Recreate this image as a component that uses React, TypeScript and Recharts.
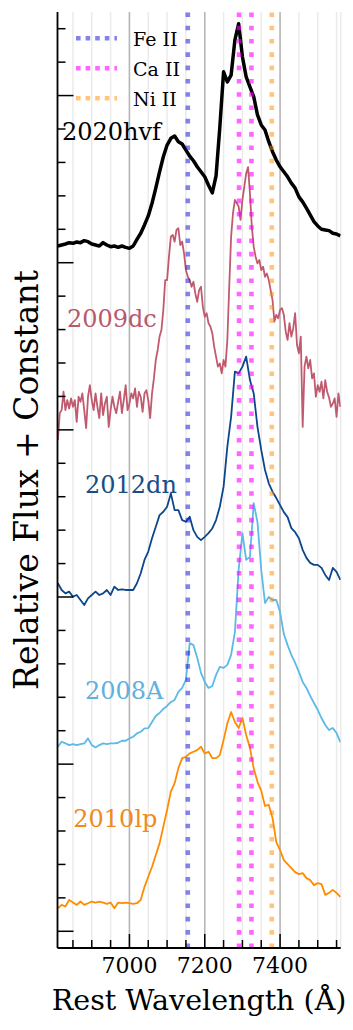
import React from 'react';
import { LineChart, Line, XAxis, YAxis, CartesianGrid, ReferenceLine, ReferenceDot } from 'recharts';

const SERIF = "'DejaVu Serif', serif";

// rest wavelength grid (Å)
const WAVE = [
  6810, 6820, 6830, 6840, 6850, 6860, 6870, 6880, 6890, 6900,
  6910, 6920, 6930, 6940, 6950, 6960, 6970, 6980, 6990, 7000,
  7010, 7020, 7030, 7040, 7050, 7060, 7070, 7080, 7090, 7100,
  7110, 7120, 7130, 7140, 7150, 7160, 7170, 7180, 7190, 7200,
  7210, 7220, 7230, 7240, 7250, 7260, 7270, 7280, 7290, 7300,
  7310, 7320, 7330, 7340, 7350, 7360, 7370, 7380, 7390, 7400,
  7410, 7420, 7430, 7440, 7450, 7460, 7470, 7480, 7490, 7500,
  7510, 7520, 7530, 7540, 7550, 7560,
];

// 2009dc is noisier, sampled finer
const WAVE_FINE = [
  6810, 6815, 6820, 6825, 6830, 6835, 6840, 6845, 6850, 6855,
  6860, 6865, 6870, 6875, 6880, 6885, 6890, 6895, 6900, 6905,
  6910, 6915, 6920, 6925, 6930, 6935, 6940, 6945, 6950, 6955,
  6960, 6965, 6970, 6975, 6980, 6985, 6990, 6995, 7000, 7005,
  7010, 7015, 7020, 7025, 7030, 7035, 7040, 7045, 7050, 7055,
  7060, 7065, 7070, 7075, 7080, 7085, 7090, 7095, 7100, 7105,
  7110, 7115, 7120, 7125, 7130, 7135, 7140, 7145, 7150, 7155,
  7160, 7165, 7170, 7175, 7180, 7185, 7190, 7195, 7200, 7205,
  7210, 7215, 7220, 7225, 7230, 7235, 7240, 7245, 7250, 7255,
  7260, 7265, 7270, 7275, 7280, 7285, 7290, 7295, 7300, 7305,
  7310, 7315, 7320, 7325, 7330, 7335, 7340, 7345, 7350, 7355,
  7360, 7365, 7370, 7375, 7380, 7385, 7390, 7395, 7400, 7405,
  7410, 7415, 7420, 7425, 7430, 7435, 7440, 7445, 7450, 7455,
  7460, 7465, 7470, 7475, 7480, 7485, 7490, 7495, 7500, 7505,
  7510, 7515, 7520, 7525, 7530, 7535, 7540, 7545, 7550, 7555,
  7560,
];

// relative flux + constant
const SN2020HVF = [
  20.50, 20.53, 20.56, 20.60, 20.58, 20.62, 20.60, 20.66, 20.63, 20.56,
  20.53, 20.50, 20.60, 20.53, 20.48, 20.50, 20.46, 20.50, 20.46, 20.43,
  20.50, 20.70, 20.88, 21.13, 21.40, 21.78, 22.23, 22.72, 23.17, 23.52,
  23.72, 23.79, 23.62, 23.55, 23.37, 23.19, 23.05, 22.87, 22.72, 22.57,
  22.32, 22.09, 22.60, 24.05, 25.71, 25.41, 25.61, 26.66, 27.15, 26.16,
  25.56, 25.26, 24.97, 24.42, 24.12, 23.97, 23.62, 23.32, 23.07, 22.87,
  22.72, 22.57, 22.38, 22.23, 21.97, 21.82, 21.63, 21.43, 21.23, 21.10,
  21.00, 20.98, 20.96, 20.88, 20.86, 20.80,
];

const SN2009DC = [
  14.70, 15.50, 15.59, 16.14, 15.59, 15.89, 15.64, 15.94, 15.69, 15.89,
  15.24, 15.99, 15.84, 16.09, 15.59, 15.05, 15.99, 16.34, 15.89, 15.59,
  16.09, 15.69, 15.35, 16.09, 15.44, 15.79, 15.99, 15.09, 15.59, 15.99,
  15.69, 15.50, 15.84, 16.14, 15.50, 15.89, 16.34, 15.59, 15.79, 16.09,
  15.94, 16.24, 15.69, 16.14, 15.99, 15.54, 16.09, 16.19, 15.89, 15.35,
  16.09, 16.54, 17.09, 17.39, 17.79, 17.99, 18.59, 19.48, 19.48, 20.18,
  20.78, 20.83, 20.63, 20.98, 21.03, 20.53, 20.63, 20.28, 19.78, 19.58,
  19.48, 19.28, 19.43, 19.08, 18.83, 19.18, 19.28, 18.68, 18.38, 18.49,
  18.19, 18.09, 17.89, 17.49, 17.19, 16.89, 16.99, 16.69, 17.09, 16.89,
  17.69, 19.28, 20.78, 21.48, 21.88, 21.78, 21.68, 21.28, 21.88, 22.27,
  22.67, 22.86, 22.08, 21.08, 20.48, 20.18, 19.98, 20.08, 19.78, 19.88,
  19.58, 19.68, 19.48, 19.18, 18.88, 18.24, 18.44, 18.34, 18.59, 18.64,
  18.44, 17.94, 17.69, 18.19, 17.79, 18.04, 18.49, 17.54, 17.29, 17.79,
  15.09, 16.89, 17.19, 16.84, 17.09, 16.54, 16.69, 15.99, 16.34, 16.14,
  16.44, 15.94, 16.49, 16.14, 15.97, 15.69, 15.79, 15.94, 15.39, 16.09,
  15.69,
];

const SN2012DN = [
  10.41, 10.21, 10.11, 10.16, 10.01, 10.06, 9.91, 9.76, 9.96, 10.06,
  10.16, 10.06, 10.11, 10.21, 10.06, 10.31, 10.21, 10.23, 10.21, 10.21,
  10.21, 10.41, 10.71, 11.11, 11.36, 11.76, 12.10, 12.45, 12.55, 12.70,
  13.10, 12.60, 12.60, 12.30, 12.25, 12.40, 12.00, 11.80, 11.70, 11.80,
  11.91, 12.05, 12.30, 12.70, 13.30, 14.50, 15.39, 16.74, 16.69, 16.89,
  17.19, 16.49, 16.09, 15.09, 14.40, 13.80, 13.40, 13.15, 12.96, 12.75,
  12.54, 12.39, 12.06, 11.94, 11.76, 11.41, 11.17, 11.02, 10.96, 10.96,
  10.87, 10.66, 10.51, 10.87, 10.75, 10.51,
];

const SN2008A = [
  5.52, 5.67, 5.62, 5.57, 5.60, 5.57, 5.60, 5.62, 5.77, 5.57,
  5.50, 5.57, 5.62, 5.60, 5.62, 5.62, 5.64, 5.70, 5.70, 5.77,
  5.82, 5.92, 5.97, 6.07, 6.08, 6.26, 6.44, 6.53, 6.65, 6.74,
  6.86, 6.92, 7.16, 7.28, 7.52, 8.62, 8.56, 8.18, 7.73, 7.46,
  7.28, 7.34, 7.67, 7.91, 7.88, 7.97, 8.27, 8.95, 10.81, 11.91,
  11.11, 11.20, 12.81, 12.24, 10.81, 9.82, 10.00, 9.91, 9.91, 9.55,
  8.89, 8.56, 8.27, 8.03, 7.76, 7.46, 7.28, 7.04, 6.83, 6.62,
  6.38, 6.17, 6.02, 6.08, 5.93, 5.66,
];

const SN2010LP = [
  0.69, 0.79, 0.74, 0.94, 0.86, 0.79, 0.89, 0.79, 0.84, 0.89,
  0.86, 0.89, 0.86, 0.82, 0.86, 0.69, 0.86, 0.84, 0.86, 0.84,
  0.82, 0.84, 0.94, 1.33, 1.63, 1.93, 2.28, 2.63, 3.13, 3.63,
  4.18, 4.43, 4.88, 5.18, 5.22, 5.32, 5.37, 5.42, 5.52, 5.32,
  5.37, 5.18, 5.18, 5.27, 5.72, 6.22, 6.56, 6.26, 6.08, 6.38,
  5.87, 5.48, 4.88, 4.47, 4.20, 3.75, 3.78, 3.39, 2.67, 2.43,
  2.13, 2.01, 1.89, 1.77, 1.71, 1.74, 1.59, 1.53, 1.38, 1.44,
  1.41, 1.09, 1.15, 1.24, 1.15, 1.03,
];

const SN_NAMES = ['2020hvf', '2009dc', '2012dn', '2008A', '2010lp'];
const SN_COLORS = ['#000000', '#c05b6f', '#0b478a', '#5cb9e8', '#ff8c00'];
const SN_TEXT_COLORS = ['#000000', '#b8596b', '#154d86', '#62b0dc', '#ef8a1c'];
const SN_WIDTHS = [3.5, 1.8, 1.8, 1.8, 1.8];
// where each name is written (left end of baseline)
const LABEL_X = [6821, 6834, 6882, 6882, 6851];
const LABEL_Y = [23.67, 18.07, 13.1, 6.95, 3.13];

// line identifications
const ION_NAMES = ['Fe II', 'Ca II', 'Ca II', 'Ni II'];
const ION_WAVES = [7155, 7291, 7324, 7378];
const ION_COLORS = ['#1414d2', '#ff00ff', '#ff8c00'];
const ION_OPACITY = [0.52, 0.6, 0.5];

const X_TICKS = [
  6850, 6900, 6950, 7000, 7050, 7100, 7150, 7200,
  7250, 7300, 7350, 7400, 7450, 7500, 7550,
];
const X_MAJOR = [7000, 7200, 7400];
const Y_TICKS = [
  0, 1, 2, 3, 4, 5, 6, 7, 8, 9, 10, 11, 12, 13,
  14, 15, 16, 17, 18, 19, 20, 21, 22, 23, 24, 25, 26, 27,
];

const X_DOMAIN: [number, number] = [6809, 7561];
const Y_DOMAIN: [number, number] = [-0.5, 27.5];

const data = WAVE.map((w, i) => ({
  w,
  s0: SN2020HVF[i],
  s2: SN2012DN[i],
  s3: SN2008A[i],
  s4: SN2010LP[i],
}));
const dcData = WAVE_FINE.map((w, i) => ({ w, s1: SN2009DC[i] }));

const ionIdx = (name: string) => (name === 'Fe II' ? 0 : name === 'Ca II' ? 1 : 2);

const isMajorX = (v: number) => X_MAJOR.indexOf(v) >= 0;
const isMajorY = (v: number) => v % 5 === 0;

function BottomTick(p: any) {
  const v = p.payload.value;
  const len = isMajorX(v) ? 14 : 8;
  return (
    <g>
      <line x1={p.x} x2={p.x} y1={p.y} y2={p.y - len} stroke="#000" strokeWidth={1.5} />
      {isMajorX(v) && (
        <text x={p.x} y={p.y + 25} textAnchor="middle" fontFamily={SERIF} fontSize={22} fill="#000">
          {v}
        </text>
      )}
    </g>
  );
}

function TopTick(p: any) {
  const len = isMajorX(p.payload.value) ? 14 : 8;
  return <line x1={p.x} x2={p.x} y1={p.y} y2={p.y + len} stroke="#000" strokeWidth={1.5} />;
}

function LeftTick(p: any) {
  const len = isMajorY(p.payload.value) ? 16 : 8;
  return <line x1={p.x} x2={p.x + len} y1={p.y} y2={p.y} stroke="#000" strokeWidth={1.5} />;
}

function RightTick(p: any) {
  const len = isMajorY(p.payload.value) ? 16 : 8;
  return <line x1={p.x} x2={p.x - len} y1={p.y} y2={p.y} stroke="#000" strokeWidth={1.5} />;
}

const yTitle = (p: any) => {
  const vb = p.viewBox;
  const cx = vb.x + 37.5;
  const cy = vb.y + vb.height / 2;
  return (
    <text x={cx} y={cy} transform={`rotate(-90, ${cx}, ${cy})`} textAnchor="middle"
      fontFamily={SERIF} fontSize={33} fill="#000">
      Relative Flux + Constant
    </text>
  );
};

const xTitle = (p: any) => {
  const vb = p.viewBox;
  return (
    <text x={vb.x + vb.width / 2} y={vb.y + 62} textAnchor="middle" fontFamily={SERIF} fontSize={28.5} fill="#000">
      Rest Wavelength (Å)
    </text>
  );
};

const LEGEND_ITEMS = ['Fe II', 'Ca II', 'Ni II'];

export default function App() {
  return (
    <div style={{ position: 'absolute', left: 0, top: 0, width: 353, height: 1030, background: '#fff' }}>
      <LineChart width={353} height={1030} data={data} margin={{ top: 12, right: 12.3, bottom: 0, left: 0 }}>
        <CartesianGrid horizontal={false} stroke="#ebebeb" strokeWidth={1.5} xAxisId="x" yAxisId="yl" />
        {X_MAJOR.map((w) => (
          <ReferenceLine key={w} x={w} xAxisId="x" yAxisId="yl" stroke="#b5b5b5" strokeWidth={1.5} />
        ))}

        <XAxis xAxisId="x" dataKey="w" type="number" domain={X_DOMAIN} allowDataOverflow ticks={X_TICKS}
          interval={0} height={82} tickSize={0} tickMargin={0} tickLine={false}
          axisLine={{ stroke: '#000', strokeWidth: 1.8 }} tick={BottomTick} label={xTitle} />
        <XAxis xAxisId="top" dataKey="w" type="number" orientation="top" mirror domain={X_DOMAIN}
          allowDataOverflow ticks={X_TICKS} interval={0} height={0} tickSize={0} tickMargin={0}
          tickLine={false} axisLine={{ stroke: '#000', strokeWidth: 1.8 }} tick={TopTick} />
        <YAxis yAxisId="yl" type="number" domain={Y_DOMAIN} allowDataOverflow ticks={Y_TICKS} interval={0}
          width={57.5} tickSize={0} tickMargin={0} tickLine={false}
          axisLine={{ stroke: '#000', strokeWidth: 1.8 }} tick={LeftTick} label={yTitle} />
        <YAxis yAxisId="yr" type="number" orientation="right" mirror domain={Y_DOMAIN} allowDataOverflow
          ticks={Y_TICKS} interval={0} width={0} tickSize={0} tickMargin={0} tickLine={false}
          axisLine={{ stroke: '#000', strokeWidth: 1.8 }} tick={RightTick} />

        {SN_NAMES.map((n, i) => (
          <Line key={n} xAxisId="x" yAxisId="yl" type="linear" dataKey={`s${i}`}
            data={i === 1 ? dcData : undefined} stroke={SN_COLORS[i]}
            strokeWidth={SN_WIDTHS[i]} dot={false} isAnimationActive={false} strokeLinejoin="round" />
        ))}

        {ION_WAVES.map((w, i) => (
          <ReferenceLine key={w} x={w} xAxisId="x" yAxisId="yl" stroke={ION_COLORS[ionIdx(ION_NAMES[i])]}
            strokeOpacity={ION_OPACITY[ionIdx(ION_NAMES[i])]} strokeWidth={4.6} strokeDasharray="4.6 8.7" />
        ))}

        {SN_NAMES.map((n, i) => (
          <ReferenceDot key={n} xAxisId="x" yAxisId="yl" x={LABEL_X[i]} y={LABEL_Y[i]} r={0}
            fill="none" stroke="none" ifOverflow="visible"
            label={(p: any) => (
              <text x={p.viewBox.x} y={p.viewBox.y} fontFamily={SERIF} fontSize={24} fill={SN_TEXT_COLORS[i]}>
                {n}
              </text>
            )} />
        ))}
      </LineChart>

      <svg width={353} height={120} style={{ position: 'absolute', left: 0, top: 0, pointerEvents: 'none' }}>
        {LEGEND_ITEMS.map((n, i) => {
          const y = 38.3 + i * 30;
          return (
            <g key={n}>
              <line x1={76} x2={117} y1={y} y2={y} stroke={ION_COLORS[ionIdx(n)]} strokeOpacity={ION_OPACITY[ionIdx(n)]}
                strokeWidth={4.6} strokeDasharray="4.6 5" />
              <text x={133} y={y + 7.7} fontFamily={SERIF} fontSize={19} fill="#000">{n}</text>
            </g>
          );
        })}
      </svg>
    </div>
  );
}
